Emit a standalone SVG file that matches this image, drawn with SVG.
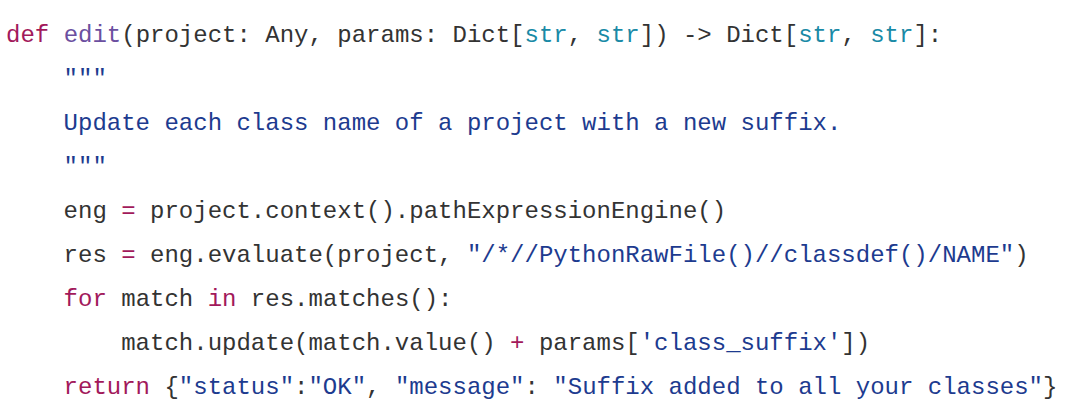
<svg xmlns="http://www.w3.org/2000/svg" width="1090" height="418" viewBox="0 0 1090 418">
<style>
text{font-family:"Liberation Mono",monospace;font-size:24px;fill:#333333;white-space:pre}
.k{fill:#a2195b}.f{fill:#6b4fa0}.t{fill:#1a8aa6}.s{fill:#1d3b8f}
</style>
<rect width="1090" height="418" fill="#ffffff"/>
<text x="6" y="42" xml:space="preserve"><tspan class="k">def</tspan> <tspan class="f">edit</tspan>(project: Any, params: Dict[<tspan class="t">str</tspan>, <tspan class="t">str</tspan>]) -&gt; Dict[<tspan class="t">str</tspan>, <tspan class="t">str</tspan>]:</text>
<text x="6" y="86" xml:space="preserve" class="s">    """</text>
<text x="6" y="130" xml:space="preserve" class="s">    Update each class name of a project with a new suffix.</text>
<text x="6" y="174" xml:space="preserve" class="s">    """</text>
<text x="6" y="218" xml:space="preserve">    eng <tspan class="k">=</tspan> project.context().pathExpressionEngine()</text>
<text x="6" y="262" xml:space="preserve">    res <tspan class="k">=</tspan> eng.evaluate(project, <tspan class="s">"/*//PythonRawFile()//classdef()/NAME"</tspan>)</text>
<text x="6" y="306" xml:space="preserve">    <tspan class="k">for</tspan> match <tspan class="k">in</tspan> res.matches():</text>
<text x="6" y="350" xml:space="preserve">        match.update(match.value() <tspan class="k">+</tspan> params[<tspan class="s">'class_suffix'</tspan>])</text>
<text x="6" y="394" xml:space="preserve">    <tspan class="k">return</tspan> {<tspan class="s">"status"</tspan>:<tspan class="s">"OK"</tspan>, <tspan class="s">"message"</tspan>: <tspan class="s">"Suffix added to all your classes"</tspan>}</text>
</svg>
